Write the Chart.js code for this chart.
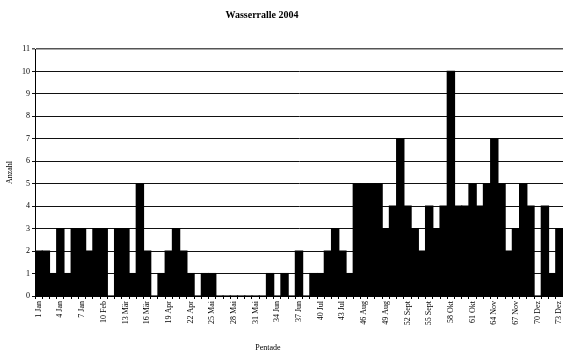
<!DOCTYPE html>
<html><head><meta charset="utf-8">
<script src="https://cdn.jsdelivr.net/npm/chart.js@4"></script>
<style>html,body{margin:0;padding:0;background:#fff}#wrap{width:563px;height:354px}</style>
</head><body><div id="wrap"><canvas id="c" width="563" height="354"></canvas></div>
<script>
const chartTitle = 'Wasserralle 2004';
const xTitle = 'Pentade';
const yTitle = 'Anzahl';
const pentades = [1,2,3,4,5,6,7,8,9,10,11,12,13,14,15,16,17,18,19,20,21,22,23,24,25,26,27,28,29,30,31,32,33,34,35,36,37,38,39,40,41,42,43,44,45,46,47,48,49,50,51,52,53,54,55,56,57,58,59,60,61,62,63,64,65,66,67,68,69,70,71,72,73];
const counts = [2,2,1,3,1,3,3,2,3,3,0,3,3,1,5,2,0,1,2,3,2,1,0,1,1,0,0,0,0,0,0,0,1,0,1,0,2,0,1,1,2,3,2,1,5,5,5,5,3,4,7,4,3,2,4,3,4,10,4,4,5,4,5,7,5,2,3,5,4,0,4,1,3];
const tickLabels = ['1 Jan','4 Jan','7 Jan','10 Feb','13 Mär','16 Mär','19 Apr','22 Apr','25 Mai','28 Mai','31 Mai','34 Jun','37 Jun','40 Jul','43 Jul','46 Aug','49 Aug','52 Sept','55 Sept','58 Okt','61 Okt','64 Nov','67 Nov','70 Dez','73 Dez'];
const yTicks = [0,1,2,3,4,5,6,7,8,9,10,11];

const FONT = '"Liberation Serif", "Times New Roman", serif';

const textPlugin = {
  id: 'texts',
  afterDraw(chart) {
    const ctx = chart.ctx;
    ctx.save();
    ctx.fillStyle = '#000';
    ctx.textAlign = 'center';
    ctx.textBaseline = 'middle';
    ctx.font = 'bold 10px ' + FONT;
    ctx.fillText(chartTitle, 262, 15);
    ctx.font = '8px ' + FONT;
    ctx.fillText(xTitle, 268, 348);
    ctx.restore();
  }
};

new Chart(document.getElementById('c'), {
  type: 'bar',
  data: {
    labels: pentades,
    datasets: [{
      data: counts,
      backgroundColor: '#000',
      borderWidth: 0,
      inflateAmount: 0.6,
      barPercentage: 1,
      categoryPercentage: 1
    }]
  },
  options: {
    responsive: false,
    animation: false,
    devicePixelRatio: 1,
    layout: { padding: { top: 49, left: 0, right: 0, bottom: 0 } },
    plugins: { legend: { display: false }, tooltip: { enabled: false }, title: { display: false } },
    scales: {
      x: {
        grid: { display: true, drawOnChartArea: false, offset: true, tickLength: 3, color: '#000' },
        border: { color: '#000', width: 1 },
        ticks: {
          autoSkip: false, maxRotation: 90, minRotation: 90, padding: 2, color: '#000',
          font: { family: FONT, size: 8 },
          callback: (v, i) => (i % 3 === 0 ? tickLabels[i / 3] : '')
        },
        afterFit(scale) { scale.height = 58; scale.paddingLeft = 0; scale.paddingRight = 0; }
      },
      y: {
        min: 0, max: 11,
        afterBuildTicks(scale) { scale.ticks = yTicks.map(v => ({ value: v })); },
        grid: {
          color: c => (c.tick && c.tick.value === 11 ? '#555' : '#111'),
          lineWidth: c => (c.tick && c.tick.value === 11 ? 1.5 : 1),
          tickLength: 3
        },
        border: { color: '#000', width: 1 },
        ticks: { color: '#000', padding: 2, font: { family: FONT, size: 8 } },
        title: { display: true, text: yTitle, color: '#000', font: { family: FONT, size: 8 }, padding: { top: 5, bottom: 0 } },
        afterFit(scale) { scale.width = 35; }
      }
    }
  },
  plugins: [textPlugin]
});
</script>
</body></html>
